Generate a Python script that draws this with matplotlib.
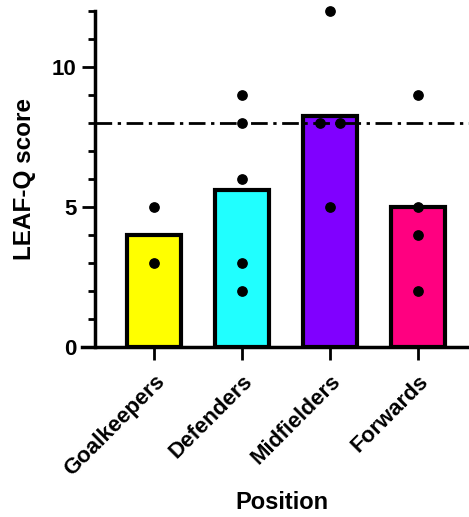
import matplotlib.pyplot as plt
import numpy as np

plt.rcParams['font.family'] = ['Liberation Sans', 'DejaVu Sans']
plt.rcParams['font.weight'] = 'bold'

positions = ["Goalkeepers", "Defenders", "Midfielders", "Forwards"]
colors = ["#FFFF00", "#20FFFF", "#8000FF", "#FF0080"]
scores = [
    [5, 3],
    [9, 8, 6, 3, 2],
    [12, 8, 8, 5],
    [9, 5, 4, 2],
]
cutoff = 8

fig = plt.figure(figsize=(4.69, 5.17), dpi=100)
ax = fig.add_axes([0.2026, 0.3288, 0.7974, 0.6499])

x = np.arange(len(positions))
means = [np.mean(s) for s in scores]
ax.bar(x, means, width=0.61, color=colors, edgecolor="black", linewidth=3, zorder=2)

# spread repeated values sideways so they don't overlap
for i, s in enumerate(scores):
    vals, counts = np.unique(s, return_counts=True)
    for v, c in zip(vals, counts):
        offs = (np.arange(c) - (c - 1) / 2) * 0.23
        ax.scatter(i + offs, [v] * c, s=45, color="black", zorder=3, clip_on=False)

ax.axhline(cutoff, color="black", linewidth=2, linestyle=(0, (6, 2, 1.2, 2)), zorder=4)

ax.set_ylim(0, 12)
ax.set_xlim(-0.67, 3.58)
ax.set_yticks([0, 5, 10])
ax.set_yticks(range(0, 13), minor=True)
ax.set_xticks(x)
ax.set_xticklabels(positions, rotation=45, ha="right", va="top", rotation_mode="anchor", fontsize=16)
ax.tick_params(axis="y", which="major", length=9.5, width=2, labelsize=16, pad=4)
ax.tick_params(axis="y", which="minor", length=5, width=2)
ax.tick_params(axis="x", length=9, width=2, pad=8)

ax.spines["top"].set_visible(False)
ax.spines["right"].set_visible(False)
ax.spines["left"].set_linewidth(2.5)
ax.spines["bottom"].set_linewidth(2.5)
ax.spines["bottom"].set_bounds(-0.82, 3.58)

ax.set_ylabel("LEAF-Q score", fontsize=17.5, fontweight="bold", labelpad=11)
ax.set_xlabel("Position", fontsize=17, fontweight="bold", labelpad=8)

fig.savefig("out.png", dpi=100)
